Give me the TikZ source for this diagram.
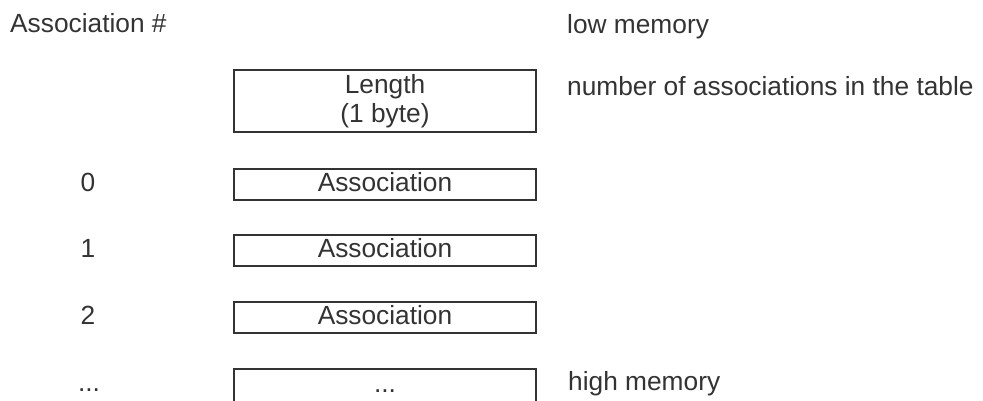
\documentclass[tikz,border=0pt]{standalone}
\usepackage{fontspec}
\setmainfont{Liberation Sans}
\definecolor{ink}{RGB}{51,51,51}
\begin{document}
\begin{tikzpicture}[x=1pt,y=-1pt,
  every node/.style={text=ink,font=\fontsize{26.3}{28.5}\selectfont},
  boxbase/.style={draw=ink,line width=2pt,minimum width=302pt,inner sep=0pt},
  membox/.style={boxbase,minimum height=31pt,text height=19pt,text depth=4.7pt},
  lbl/.style={anchor=base west,inner sep=0pt},
  idx/.style={anchor=base,inner sep=0pt}]
\useasboundingbox (0,0) rectangle (983,400);
\node[lbl] (hdr) at (10,32) {Association \#};
\node[lbl] (low) at (567,33) {low memory};
\node[boxbase,minimum height=62pt,align=center] (len) at (385,101) {Length\\(1 byte)};
\node[lbl] (cnt) at (567,95) {number of associations in the table};
\node[membox] (a0) at (385,184.5) {Association};
\node[membox] (a1) at (385,250.5) {Association};
\node[membox] (a2) at (385,317.5) {Association};
\node[membox,minimum height=45pt,text depth=18pt] (a3) at (385,391.5) {...};
\node[idx] (i0) at (88,191.5) {0};
\node[idx] (i1) at (88,257.7) {1};
\node[idx] (i2) at (88,324.7) {2};
\node[idx] (i3) at (89,391.7) {...};
\node[lbl] (high) at (568,390) {high memory};
\end{tikzpicture}
\end{document}
